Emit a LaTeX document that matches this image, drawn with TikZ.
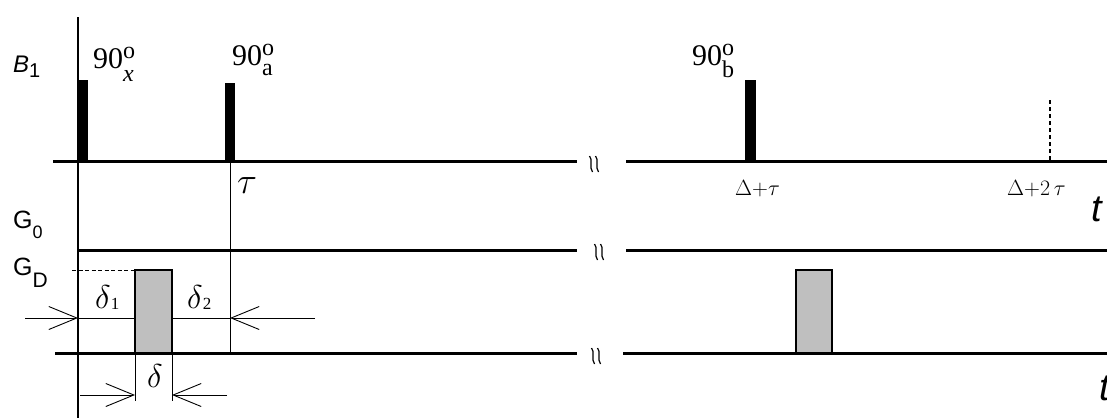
\RequirePackage{fix-cm}
\documentclass[tikz,border=0pt]{standalone}
\usepackage{fontspec}
\setmainfont{Liberation Serif}
\setsansfont{Liberation Sans}
\usetikzlibrary{arrows.meta}
\newcommand{\fsz}[1]{\fontsize{#1}{#1}\selectfont}
\newcommand{\ninety}[2]{90\rlap{\raisebox{9.5pt}{\fsz{24}o}}\raisebox{-#1}{\fsz{24}#2}}
\newcommand{\brkmark}[2]{%
  \draw[line width=1.2pt] (#1-4.5,#2-8) .. controls (#1-0.5,#2-4) and (#1-5.5,#2+3) .. (#1-1.5,#2+8);
  \draw[line width=1.2pt] (#1+1.5,#2-8) .. controls (#1+5.5,#2-4) and (#1+0.5,#2+3) .. (#1+4.5,#2+8);}
\begin{document}
\begin{tikzpicture}[x=1pt,y=-1pt,
  base/.style={line width=3pt},
  thinln/.style={line width=0.9pt},
  rfpulse/.style={fill=black,draw=black,line width=0.5pt},
  gpulse/.style={fill=black!25,draw=black,line width=2pt},
  dimarrow/.style={line width=0.9pt,-{Straight Barb[length=28pt,width=23pt,line width=0.9pt]}},
  lbl/.style={inner sep=0pt,anchor=base west},
  serl/.style={lbl,font=\fsz{30}},
  sansl/.style={lbl,font=\fsz{24}\sffamily}]
\useasboundingbox (0,0) rectangle (1107,418);
% coordinates
\coordinate (axtop) at (78,17);
\coordinate (axbot) at (78,418);
\coordinate (bL) at (53,161); \coordinate (bM) at (577,161);
\coordinate (bR) at (626,161); \coordinate (bE) at (1107,161);
\coordinate (g0L) at (78,250); \coordinate (g0M) at (577,250);
\coordinate (g0R) at (626,250); \coordinate (g0E) at (1107,250);
\coordinate (gL) at (55,353); \coordinate (gM) at (577,353);
\coordinate (gR) at (623,353); \coordinate (gE) at (1107,353);
% axis
\draw[line width=2pt] (axtop) -- (axbot);
% baselines
\draw[base] (bL) -- (bM); \draw[base] (bR) -- (bE);
\draw[base] (g0L) -- (g0M); \draw[base] (g0R) -- (g0E);
\draw[base] (gL) -- (gM); \draw[base] (gR) -- (gE);
\brkmark{594}{164}
\brkmark{599}{252}
\brkmark{596}{356}
% rf pulses
\draw[rfpulse] (78.5,80) rectangle (87,161);
\draw[rfpulse] (225.5,83) rectangle (234,161);
\draw[rfpulse] (745,80) rectangle (755,161);
\coordinate (tauT) at (230,161); \coordinate (tauB) at (230,353);
\draw[thinln] (tauT) -- (tauB);
\coordinate (d2T) at (1050,100); \coordinate (d2B) at (1050,161);
\draw[line width=2pt,dash pattern=on 4pt off 3pt] (d2T) -- (d2B);
% gradient pulses
\draw[gpulse] (135,270) rectangle (172,353);
\draw[gpulse] (796,270) rectangle (832,353);
\coordinate (gdL) at (72,270); \coordinate (gdR) at (135,270);
\draw[thinln,dash pattern=on 4pt off 2.5pt] (gdL) -- (gdR);
% delta1, delta2 dimension
\coordinate (a1s) at (25,318); \coordinate (a1e) at (78,318);
\coordinate (p1L) at (135,318); \coordinate (p1R) at (172,318);
\coordinate (a2s) at (315,318); \coordinate (a2e) at (230,318);
\draw[dimarrow] (a1s) -- (a1e);
\draw[thinln] (a1e) -- (p1L);
\draw[thinln] (p1R) -- (a2e);
\draw[dimarrow] (a2s) -- (a2e);
% delta dimension
\coordinate (e1T) at (135,353); \coordinate (e1B) at (135,401);
\coordinate (e2T) at (172,353); \coordinate (e2B) at (172,401);
\draw[thinln] (e1T) -- (e1B); \draw[thinln] (e2T) -- (e2B);
\coordinate (b1s) at (80,395); \coordinate (b1e) at (135,395);
\coordinate (b2s) at (227,395); \coordinate (b2e) at (172,395);
\draw[dimarrow] (b1s) -- (b1e);
\draw[dimarrow] (b2s) -- (b2e);
% labels
\node[sansl] (lB) at (13,72) {\textit{B}\fsz{20}\raisebox{-5pt}{1}};
\node[sansl,font=\fsz{25}\sffamily] (lG0) at (13,228) {G\fsz{18}\raisebox{-10pt}{0}};
\node[sansl,font=\fsz{25}\sffamily] (lGD) at (13,275) {G\fsz{21}\raisebox{-12pt}{D}};
\node[serl] (l90x) at (93,68) {\ninety{13pt}{\textit{x}}};
\node[serl] (l90a) at (232,65) {\ninety{10pt}{a}};
\node[serl] (l90b) at (692,65) {\ninety{12pt}{b}};
\node[lbl,font=\fsz{37}] (ltau) at (237,193) {$\tau$};
\node[lbl,font=\fsz{22}] (ldt) at (735,195) {$\Delta\mathord{+}\tau$};
\node[lbl,font=\fsz{22}] (ld2t) at (1007,195) {$\Delta\mathord{+}2\,\tau$};
\node[lbl,font=\fsz{33}] (ld1) at (95,308) {$\delta$\fsz{17}\raisebox{-1.5pt}{1}};
\node[lbl,font=\fsz{33}] (ld2) at (187,308) {$\delta$\fsz{17}\raisebox{-1.5pt}{2}};
\node[lbl,font=\fsz{33}] (ld) at (147,387) {$\delta$};
\node[lbl,font=\fsz{38}\sffamily\itshape] (lt1) at (1091,221) {t};
\node[lbl,font=\fsz{38}\sffamily\itshape] (lt2) at (1099,400) {t};
\end{tikzpicture}
\end{document}
